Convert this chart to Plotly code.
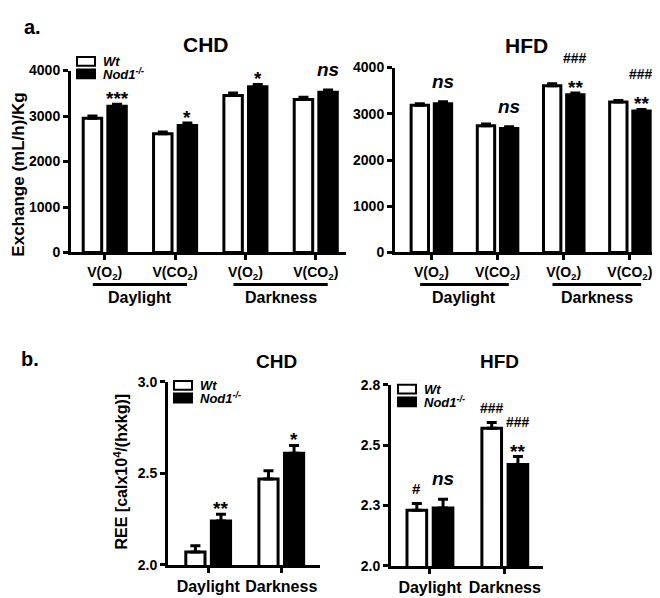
import plotly.graph_objects as go

# ---------------- data ----------------
categories_a = ["V(O<sub>2</sub>)", "V(CO<sub>2</sub>)", "V(O<sub>2</sub>)", "V(CO<sub>2</sub>)"]
periods_a = ["Daylight", "Darkness"]
period_members_a = [[0, 1], [2, 3]]

chd_a_wt = [2950, 2610, 3450, 3360]
chd_a_wt_err = [50, 40, 55, 50]
chd_a_nod1 = [3215, 2790, 3645, 3520]
chd_a_nod1_err = [45, 55, 50, 50]

hfd_a_wt = [3185, 2740, 3605, 3255]
hfd_a_wt_err = [35, 40, 45, 35]
hfd_a_nod1 = [3220, 2680, 3410, 3060]
hfd_a_nod1_err = [40, 40, 40, 35]

categories_b = ["Daylight", "Darkness"]
chd_b_wt = [2.07, 2.47]
chd_b_wt_err = [0.035, 0.045]
chd_b_nod1 = [2.24, 2.61]
chd_b_nod1_err = [0.037, 0.043]

hfd_b_wt = [2.23, 2.57]
hfd_b_wt_err = [0.028, 0.024]
hfd_b_nod1 = [2.24, 2.42]
hfd_b_nod1_err = [0.036, 0.033]

yticks_a = [0, 1000, 2000, 3000, 4000]
yticks_b_chd = [2.0, 2.5, 3.0]
yticklabels_b_chd = ["2.0", "2.5", "3.0"]
yticks_b_hfd = [2.0, 2.25, 2.5, 2.75]
yticklabels_b_hfd = ["2.0", "2.3", "2.5", "2.8"]

series_names = ["Wt", "Nod1<sup>-/-</sup>"]

# significance marks: (category index, series index 0=Wt 1=Nod1, labels bottom -> top)
sig_chd_a = [(0, 1, ["***"]), (1, 1, ["*"]), (2, 1, ["*"]), (3, 1, ["ns"])]
sig_hfd_a = [(0, 1, ["ns"]), (1, 1, ["ns"]), (2, 1, ["**", "###"]), (3, 1, ["**", "###"])]
sig_chd_b = [(0, 1, ["**"]), (1, 1, ["*"])]
sig_hfd_b = [(0, 0, ["#"]), (0, 1, ["ns"]), (1, 0, ["###"]), (1, 1, ["**", "###"])]

# ---------------- style ----------------
FONT = "Liberation Sans, Arial, sans-serif"
W, H = 660, 598
BARGAP = 0.30
BARGROUPGAP = 0.25


def px(x):
    return x / W


def py(y):
    return 1 - y / H


def bfont(size, italic=False):
    return dict(family=FONT, size=size, color="black", weight="bold",
                style="italic" if italic else "normal")


fig = go.Figure()

panels = [
    ("x", "y", chd_a_wt, chd_a_wt_err, chd_a_nod1, chd_a_nod1_err, sig_chd_a),
    ("x2", "y2", hfd_a_wt, hfd_a_wt_err, hfd_a_nod1, hfd_a_nod1_err, sig_hfd_a),
    ("x3", "y3", chd_b_wt, chd_b_wt_err, chd_b_nod1, chd_b_nod1_err, sig_chd_b),
    ("x4", "y4", hfd_b_wt, hfd_b_wt_err, hfd_b_nod1, hfd_b_nod1_err, sig_hfd_b),
]

annotations = []
shapes = []

sig_style = {
    "*": dict(size=19, italic=False, shift=-7),
    "**": dict(size=19, italic=False, shift=-7),
    "***": dict(size=19, italic=False, shift=-7),
    "ns": dict(size=19, italic=True, shift=8),
    "#": dict(size=15, italic=False, shift=5),
    "###": dict(size=14, italic=False, shift=5),
}
bar_offset = (1 - BARGAP) / 4

for xa, ya, wt, wte, nod, node, sig in panels:
    xs = list(range(len(wt)))
    for vals, errs, fill in ((wt, wte, "white"), (nod, node, "black")):
        fig.add_trace(go.Bar(
            x=xs, y=vals, xaxis=xa, yaxis=ya, showlegend=False,
            marker=dict(color=fill, line=dict(color="black", width=3)),
            error_y=dict(type="data", array=errs, arrayminus=[0] * len(errs),
                         symmetric=False, thickness=3, width=5, color="black"),
        ))
    for cat, s, labels in sig:
        vals, errs = (wt, wte) if s == 0 else (nod, node)
        xpos = cat + (-bar_offset if s == 0 else bar_offset)
        top = vals[cat] + errs[cat]
        acc = 0
        for lab in labels:
            st = sig_style[lab]
            annotations.append(dict(
                x=xpos, y=top, xref=xa, yref=ya, text=lab, showarrow=False,
                yanchor="bottom", yshift=st["shift"] + acc,
                font=bfont(st["size"], st["italic"])))
            acc += 20

axis_common = dict(showline=True, linewidth=3, linecolor="black", ticks="outside",
                   ticklen=5, tickwidth=3, tickcolor="black", showgrid=False,
                   zeroline=False, mirror=False)
xfont = bfont(14)
yfont = bfont(14)

fig.update_layout(
    width=W, height=H, margin=dict(l=0, r=0, t=0, b=0),
    paper_bgcolor="white", plot_bgcolor="white",
    barmode="group", bargap=BARGAP, bargroupgap=BARGROUPGAP,
    showlegend=False,
    font=dict(family=FONT, color="black", size=14),
    xaxis=dict(domain=[px(63), px(338)], anchor="y", range=[-0.48, 3.43],
               tickvals=list(range(len(categories_a))), ticktext=categories_a,
               tickfont=xfont, **axis_common),
    yaxis=dict(domain=[py(243), py(56)], anchor="x", range=[0, 4000],
               tickvals=yticks_a, tickfont=yfont, **axis_common),
    xaxis2=dict(domain=[px(387), px(655)], anchor="y2", range=[-0.55, 3.5],
                tickvals=list(range(len(categories_a))), ticktext=categories_a,
                tickfont=xfont, **axis_common),
    yaxis2=dict(domain=[py(243), py(53)], anchor="x2", range=[0, 4000],
                tickvals=yticks_a, tickfont=yfont, **axis_common),
    xaxis3=dict(domain=[px(160), px(312)], anchor="y3", range=[-0.55, 1.53],
                tickvals=list(range(len(categories_b))), ticktext=categories_b,
                tickfont=bfont(16), **axis_common),
    yaxis3=dict(domain=[py(564), py(376)], anchor="x3", range=[2.0, 3.0],
                tickvals=yticks_b_chd, ticktext=yticklabels_b_chd, tickfont=yfont,
                **axis_common),
    xaxis4=dict(domain=[px(383), px(535)], anchor="y4", range=[-0.52, 1.51],
                tickvals=list(range(len(categories_b))), ticktext=categories_b,
                tickfont=bfont(16), **axis_common),
    yaxis4=dict(domain=[py(565), py(379)], anchor="x4", range=[2.0, 2.75],
                tickvals=yticks_b_hfd, ticktext=yticklabels_b_hfd, tickfont=yfont,
                **axis_common),
)

# period bars and labels under panel a
for xa in ("x", "x2"):
    for name, members in zip(periods_a, period_members_a):
        x0, x1 = members[0] - 0.17, members[-1] + 0.17
        shapes.append(dict(type="line", xref=xa, yref="paper", x0=x0, x1=x1,
                           y0=py(276), y1=py(276), line=dict(color="black", width=3)))
        annotations.append(dict(x=(members[0] + members[-1]) / 2, xref=xa, y=py(289),
                                yref="paper", text=name, showarrow=False,
                                font=bfont(16)))


# manual legends
def add_legend(x, y_top, w=18, h=9, gap=4, size=13):
    for i, (name, fill) in enumerate(zip(series_names, ("white", "black"))):
        y0 = y_top + i * (h + gap)
        shapes.append(dict(type="rect", xref="paper", yref="paper",
                           x0=px(x), x1=px(x + w), y0=py(y0 + h), y1=py(y0),
                           fillcolor=fill, line=dict(color="black", width=2)))
        annotations.append(dict(x=px(x + w + 6), y=py(y0 + h / 2), xref="paper", yref="paper",
                                xanchor="left", yanchor="middle", showarrow=False,
                                text=name, font=bfont(size, True)))


add_legend(69, 42)
add_legend(166, 375)
add_legend(390, 379)


# titles & labels
def txt(x, y, text, size, angle=0):
    annotations.append(dict(x=px(x), y=py(y), xref="paper", yref="paper", text=text,
                            showarrow=False, textangle=angle, xanchor="center", yanchor="middle",
                            font=bfont(size)))


txt(24, 11, "a.", 20)
txt(22, 352, "b.", 20)
txt(198, 29, "CHD", 21)
txt(518, 30, "HFD", 21)
txt(268, 355, "CHD", 19)
txt(491, 355, "HFD", 19)
txt(11, 163, "Exchange (mL/h)/Kg", 17, -90)
txt(113, 468, "REE [calx10<sup>4</sup>/(hxkg)]", 16, -90)

fig.update_layout(annotations=annotations, shapes=shapes)
fig.write_html("out.html")
